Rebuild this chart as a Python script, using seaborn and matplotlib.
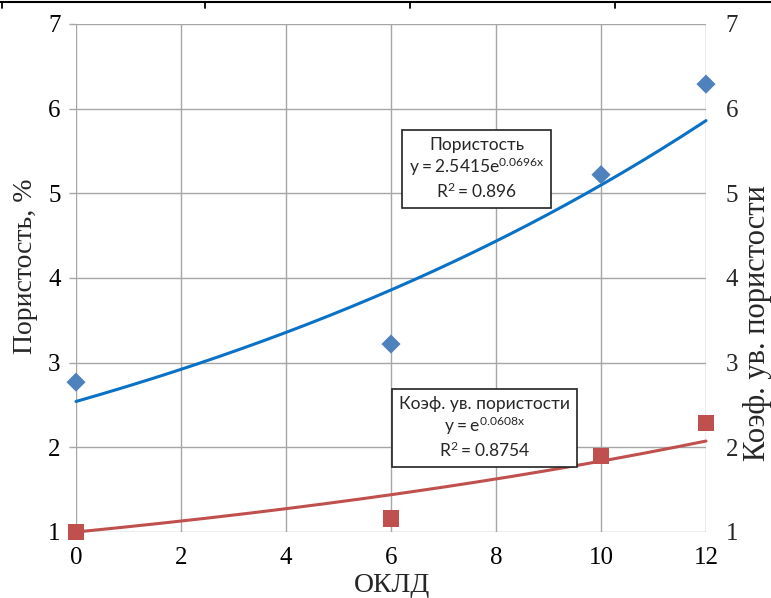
import numpy as np
import pandas as pd
import matplotlib
matplotlib.use("Agg")
import matplotlib.pyplot as plt
from matplotlib.lines import Line2D
import seaborn as sns

# Measurements
okld = [0, 6, 10, 12]
porosity = [2.77, 3.22, 5.22, 6.29]          # Пористость, %
porosity_coef = [1.0, 1.16, 1.90, 2.29]      # Коэф. ув. пористости

# Exponential trend coefficients: y = a * exp(b * x)
por_a, por_b, por_r2 = 2.5415, 0.0696, 0.896
coef_a, coef_b, coef_r2 = 1.0, 0.0608, 0.8754

x_ticks = [0, 2, 4, 6, 8, 10, 12]
y_ticks = [1, 2, 3, 4, 5, 6, 7]

W, H = 771, 598

sns.set_theme(style="white")
plt.rcParams["font.family"] = ["Liberation Serif", "DejaVu Serif"]

fig = plt.figure(figsize=(W / 100, H / 100), dpi=100)
ax = fig.add_axes([76 / W, 1 - 532 / H, 630 / W, 508 / H])

xs = np.linspace(0, 12, 200)
trend = pd.DataFrame({
    "x": np.concatenate([xs, xs]),
    "y": np.concatenate([por_a * np.exp(por_b * xs), coef_a * np.exp(coef_b * xs)]),
    "s": ["p"] * len(xs) + ["c"] * len(xs),
})
pts_p = pd.DataFrame({"x": okld, "y": porosity})
pts_c = pd.DataFrame({"x": okld, "y": porosity_coef})

grid_c = "#a6a6a6"
ax.set_xlim(0, 12)
ax.set_ylim(1, 7)
ax.set_xticks(x_ticks)
ax.set_yticks(y_ticks)
ax.grid(True, color=grid_c, linewidth=1.0)
for s in ax.spines.values():
    s.set_visible(False)
ax.set_axisbelow(True)

sns.lineplot(data=trend[trend.s == "p"], x="x", y="y", color="#0a72c6",
             linewidth=2.2, ax=ax, legend=False, clip_on=False, zorder=3)
sns.lineplot(data=trend[trend.s == "c"], x="x", y="y", color="#c0504d",
             linewidth=2.2, ax=ax, legend=False, clip_on=False, zorder=3)
sns.scatterplot(data=pts_p, x="x", y="y", marker="D", s=95, color="#4f81bd",
                edgecolor="none", ax=ax, clip_on=False, zorder=4)
sns.scatterplot(data=pts_c, x="x", y="y", marker="s", s=140, color="#c0504d",
                edgecolor="none", ax=ax, clip_on=False, zorder=4)

ax.tick_params(axis="both", which="both", labelsize=18, labelcolor="black",
               color=grid_c, length=5, width=1.0, pad=6)
ax.set_xlabel("")
ax.set_ylabel("")

ax2 = ax.twinx()
ax2.set_ylim(1, 7)
ax2.set_yticks(y_ticks)
for s in ax2.spines.values():
    s.set_visible(False)
ax2.tick_params(axis="y", labelsize=18, length=0, pad=14)
ax2.set_ylabel("")
ax2.grid(False)

# axis titles
fig.text(392 / W, 1 - 586 / H, "ОКЛД", fontsize=20, ha="center", va="center")
fig.text(25 / W, 1 - 266 / H, "Пористость, %", fontsize=20, rotation=90,
         ha="center", va="center")
fig.text(758 / W, 1 - 323 / H, "Коэф. ув. пористости", fontsize=22, rotation=90,
         ha="center", va="center")

# trendline annotations
box = dict(boxstyle="square,pad=0.4", facecolor="white", edgecolor="#222222",
           linewidth=1.2)
ann_font = ["Lato", "DejaVu Sans"]
ax.text(7.63, 5.29,
        "Пористость\n"
        f"$\\mathregular{{y = {por_a}e^{{{por_b}x}}}}$\n"
        f"$\\mathregular{{R^2 = {por_r2}}}$",
        ha="center", va="center", fontsize=12.5, family=ann_font,
        linespacing=1.2, bbox=box, zorder=5)
ax.text(7.78, 2.23,
        "Коэф. ув. пористости\n"
        f"$\\mathregular{{y = e^{{{coef_b}x}}}}$\n"
        f"$\\mathregular{{R^2 = {coef_r2}}}$",
        ha="center", va="center", fontsize=12.5, family=ann_font,
        linespacing=1.2, bbox=box, zorder=5)

# thin page rule along the top edge
fig.add_artist(Line2D([0, 1], [1 - 2 / H, 1 - 2 / H], color="black", linewidth=1.5,
                      transform=fig.transFigure))
for xp in [2, 205, 410, 615]:
    fig.add_artist(Line2D([xp / W, xp / W], [1 - 2 / H, 1 - 8 / H], color="black",
                          linewidth=1.3, transform=fig.transFigure))

fig.savefig("out.png", dpi=100)
